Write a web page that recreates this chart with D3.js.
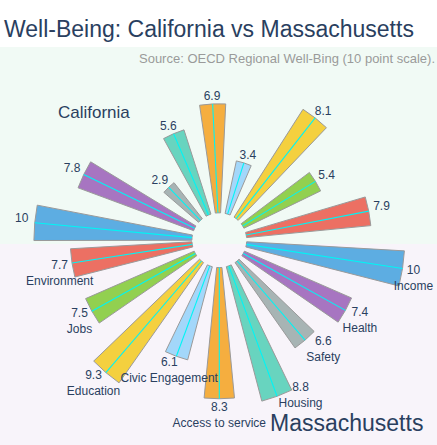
<!DOCTYPE html>
<html>
<head>
<meta charset="utf-8">
<script src="https://cdn.jsdelivr.net/npm/d3@7"></script>
<style>
  html, body { margin: 0; padding: 0; background: #ffffff; }
  svg { display: block; font-family: "Liberation Sans", Arial, sans-serif; }
</style>
</head>
<body>
<div id="chart"></div>
<script>
// ---- data ----
const categories = ["Income", "Health", "Safety", "Housing", "Access to service",
                    "Civic Engagement", "Education", "Jobs", "Environment"];
const california = [10, 7.8, 2.9, 5.6, 6.9, 3.4, 8.1, 5.4, 7.9];
const massachusetts = [10, 7.4, 6.6, 8.8, 8.3, 6.1, 9.3, 7.5, 7.7];
const barColors = ["#5dade2", "#a775c1", "#a7b4b4", "#68d4bf", "#f5ae3f",
                   "#a3d7fa", "#f4d03f", "#92d050", "#ec7063"];
const titleText = "Well-Being: California vs Massachusetts";
const sourceText = "Source: OECD Regional Well-Bing (10 point scale).";
const stateNames = ["California", "Massachusetts"];

// ---- layout ----
const W = 437, H = 445;
const cx = 219.3, cy = 240.2;
const splitY = 244, bandTop = 47;
const wedgeWidth = 11; // degrees
const textColor = "#2a3f5f";

const svg = d3.select("#chart").append("svg").attr("width", W).attr("height", H);

svg.append("rect").attr("x", 0).attr("y", bandTop).attr("width", W).attr("height", splitY - bandTop).attr("fill", "#f1faf5");
svg.append("rect").attr("x", 0).attr("y", splitY).attr("width", W).attr("height", H - splitY).attr("fill", "#f8f4fa");

const r = d3.scaleLinear().domain([0, 10]).range([27.4, 185.4]);
const thetaTop = d3.scalePoint().domain(categories).range([174.6, 11]);
const thetaBottom = d3.scalePoint().domain(categories).range([-8.8, -171.2]);
const color = d3.scaleOrdinal().domain(categories).range(barColors);

const rad = d => d * Math.PI / 180;
const polar = (rr, a) => [cx + rr * Math.cos(rad(a)), cy - rr * Math.sin(rad(a))];

function drawHalf(values, theta) {
  const data = categories.map((c, i) => ({ c, v: values[i], a: theta(c) }));
  const g = svg.append("g");
  const arc = d3.arc()
    .innerRadius(r(0))
    .outerRadius(d => r(d.v))
    .startAngle(d => rad(90 - (d.a + wedgeWidth / 2)))
    .endAngle(d => rad(90 - (d.a - wedgeWidth / 2)));
  g.selectAll("path.wedge").data(data).join("path")
    .attr("class", "wedge")
    .attr("transform", `translate(${cx},${cy})`)
    .attr("d", arc)
    .attr("fill", d => color(d.c))
    .attr("stroke", "#9a9a9a")
    .attr("stroke-width", 1);
  g.selectAll("line.ray").data(data).join("line")
    .attr("class", "ray")
    .attr("x1", d => polar(r(0), d.a)[0])
    .attr("y1", d => polar(r(0), d.a)[1])
    .attr("x2", d => polar(r(d.v), d.a)[0])
    .attr("y2", d => polar(r(d.v), d.a)[1])
    .attr("stroke", "#00f5f5")
    .attr("stroke-width", 1.1);
  return data;
}

const topData = drawHalf(california, thetaTop);
const botData = drawHalf(massachusetts, thetaBottom);

const labels = svg.append("g").attr("fill", textColor).attr("font-size", 12);

// top value labels
topData.forEach(d => {
  const [px, py] = polar(r(d.v), d.a);
  const c = Math.cos(rad(d.a)), s = Math.sin(rad(d.a));
  labels.append("text")
    .attr("x", px + 13 * c)
    .attr("y", py - (5 + 3 * s))
    .attr("dy", "0.35em")
    .attr("text-anchor", "middle")
    .text(d.v);
});

// bottom value + category labels
botData.forEach(d => {
  const [px, py] = polar(r(d.v), d.a);
  const c = Math.cos(rad(d.a));
  const tmp = labels.append("text").attr("text-anchor", "middle").attr("dy", "0.35em").text(d.v);
  const w = tmp.node().getComputedTextLength();
  let dx, dy;
  if (c > 0.05) {
    dx = 4 + w / 2 + 17 * (1 - c);
    dy = 1 - 40 * Math.max(0, 0.6 - c);
  } else if (c < -0.05) {
    dx = -(4 + w / 2) * Math.min(1, -c / 0.6);
    dy = 2 + 8 * Math.max(0, 0.6 + c) / 0.6;
  } else {
    dx = 0;
    dy = 8.5;
  }
  const vx = px + dx, vy = py + dy;
  tmp.attr("x", vx).attr("y", vy);
  labels.append("text")
    .attr("x", vx)
    .attr("y", vy + 16)
    .attr("dy", "0.35em")
    .attr("text-anchor", "middle")
    .text(d.c);
});

// titles
svg.append("text").attr("x", 4).attr("y", 36.5).attr("font-size", 23).attr("fill", textColor).text(titleText);
svg.append("text").attr("x", 435).attr("y", 63.3).attr("font-size", 13).attr("fill", "#9a9a9a")
  .attr("text-anchor", "end").text(sourceText);
svg.append("text").attr("x", 58).attr("y", 118.3).attr("font-size", 17).attr("fill", textColor).text(stateNames[0]);
svg.append("text").attr("x", 270).attr("y", 431).attr("font-size", 23).attr("fill", textColor).text(stateNames[1]);
</script>
</body>
</html>
